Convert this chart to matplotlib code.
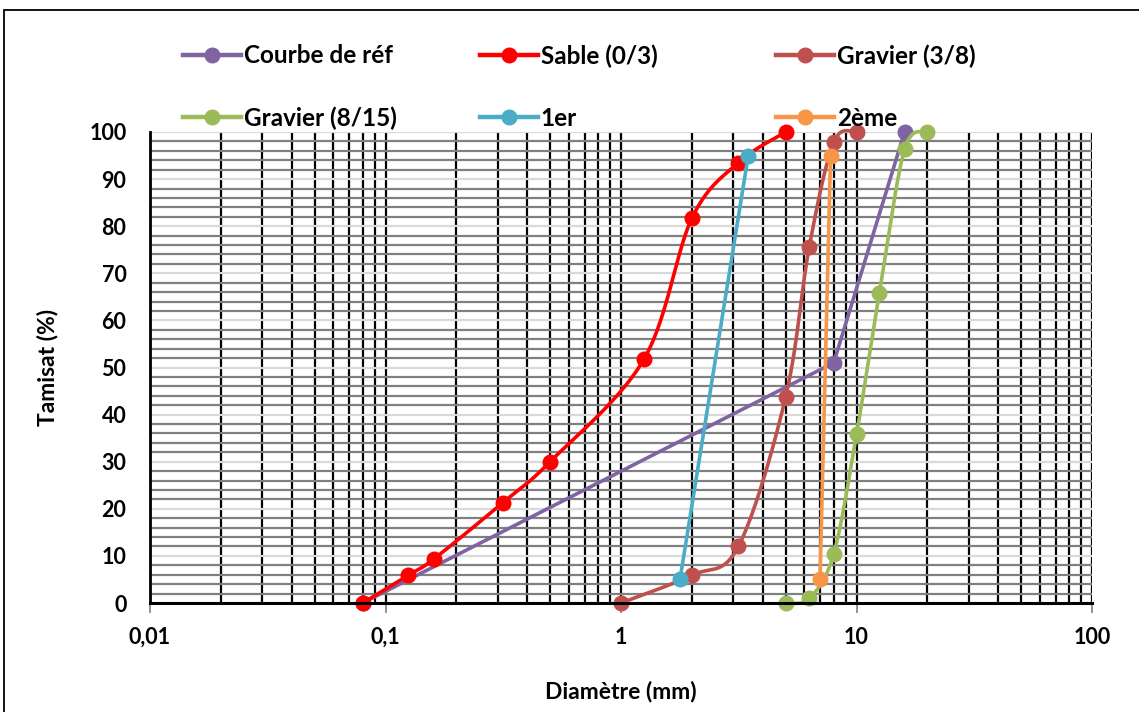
import numpy as np
import matplotlib
matplotlib.use("Agg")
from matplotlib import pyplot as plt
from matplotlib.lines import Line2D
from matplotlib.patches import Rectangle

plt.rcParams['font.family'] = ['Lato', 'DejaVu Sans']
plt.rcParams['font.weight'] = 'bold'
plt.rcParams['axes.labelweight'] = 'bold'

# sieve analysis data: diameter (mm) / passing (%)
ref_d = [0.08, 8, 16]
ref_p = [0, 51, 100]

sable_d = [0.08, 0.125, 0.16, 0.315, 0.5, 1.25, 2, 3.15, 5]
sable_p = [0, 5.9, 9.3, 21.3, 30.0, 51.7, 81.7, 93.5, 100]

g38_d = [1, 2, 3.15, 5, 6.3, 8, 10]
g38_p = [0, 5.9, 12.0, 43.7, 75.6, 97.8, 100]

g815_d = [5, 6.3, 8, 10, 12.5, 16, 20]
g815_p = [0, 1.0, 10.4, 35.8, 65.8, 96.3, 100]

d1_d = [1.78, 3.47]
d1_p = [5, 95]

d2_d = [7.0, 7.76]
d2_p = [5, 95]

names = ['Courbe de réf', 'Sable (0/3)', 'Gravier (3/8)', 'Gravier (8/15)', '1er', '2ème']
colors = ['#8064A2', '#FF0000', '#C0504D', '#9BBB59', '#4BACC6', '#F79646']
series = [(ref_d, ref_p, False), (sable_d, sable_p, True), (g38_d, g38_p, True),
          (g815_d, g815_p, True), (d1_d, d1_p, False), (d2_d, d2_p, False)]

xticks = [0.01, 0.1, 1, 10, 100]
xtick_labels = ['0,01', '0,1', '1', '10', '100']
yticks = list(range(0, 101, 10))


def smooth(ax, xs, ys, n=40):
    # Catmull-Rom style bezier through the points, computed in screen space
    pts = ax.transData.transform(np.column_stack([xs, ys]))
    out = [pts[0]]
    m = len(pts)
    for i in range(m - 1):
        p0 = pts[i]
        p3 = pts[i + 1]
        pm = pts[i - 1] if i > 0 else pts[i]
        pn = pts[i + 2] if i + 2 < m else pts[i + 1]
        p1 = p0 + (p3 - pm) / 6.0
        p2 = p3 - (pn - p0) / 6.0
        t = np.linspace(0, 1, n)[1:, None]
        seg = ((1 - t) ** 3) * p0 + 3 * ((1 - t) ** 2) * t * p1 + 3 * (1 - t) * t ** 2 * p2 + t ** 3 * p3
        out.extend(seg)
    out = np.array(out)
    back = ax.transData.inverted().transform(out)
    return back[:, 0], back[:, 1]


fig = plt.figure(figsize=(11.39, 7.12), dpi=100)
ax = fig.add_axes([150 / 1139, 1 - 603 / 712, (1092 - 150) / 1139, (603 - 132) / 712])

ax.set_xscale('log')
ax.set_xlim(0.01, 100)
ax.set_ylim(0, 100)

ax.set_xticks(xticks)
ax.set_xticklabels(xtick_labels)
ax.set_yticks(yticks)
ax.set_yticks(range(0, 101, 2), minor=True)
ax.xaxis.set_minor_locator(matplotlib.ticker.LogLocator(base=10, subs=np.arange(2, 10)))
ax.xaxis.set_minor_formatter(matplotlib.ticker.NullFormatter())

ax.grid(which='major', axis='y', color='#D9D9D9', lw=1.6)
ax.grid(which='minor', axis='y', color='#808080', lw=1.6)
ax.grid(which='both', axis='x', color='black', lw=1.6)
ax.set_axisbelow(True)

for s in ['top', 'right']:
    ax.spines[s].set_visible(False)
ax.spines['left'].set_linewidth(2)
ax.spines['bottom'].set_linewidth(2.2)
ax.tick_params(axis='x', which='major', length=7, width=1.2, color='#808080', pad=10, labelsize=15.5)
ax.tick_params(axis='x', which='minor', length=0)
ax.tick_params(axis='y', which='both', length=0, pad=17, labelsize=15.5)

handles = []
for (xs, ys, sm), name, c in zip(series, names, colors):
    if sm:
        lx, ly = smooth(ax, xs, ys)
    else:
        lx, ly = xs, ys
    ax.plot(lx, ly, color=c, lw=2.6, solid_capstyle='round', clip_on=False)
    ax.plot(xs, ys, 'o', color=c, ms=10.5, clip_on=False)
    handles.append(Line2D([], [], color=c, lw=3.2, marker='o', ms=10.5))

ax.set_xlabel('Diamètre (mm)', fontsize=16.5, labelpad=24)
ax.set_ylabel('Tamisat (%)', fontsize=16.5, labelpad=22)

# legend laid out as three columns of two rows
col_x = [183 / 1139, 480 / 1139, 776 / 1139]
for k in range(3):
    fig.legend([handles[k], handles[k + 3]], [names[k], names[k + 3]],
               loc='center left', bbox_to_anchor=(col_x[k], 1 - 87 / 712),
               bbox_transform=fig.transFigure, frameon=False, fontsize=17.5,
               handlelength=2.4, handletextpad=0.1, labelspacing=1.6,
               borderpad=0, borderaxespad=0)

fig.add_artist(Rectangle((4 / 1139, -0.05), 1.2, 1.05 - 10 / 712, transform=fig.transFigure,
                         fill=False, edgecolor='black', lw=1.3))

fig.savefig('out.png', dpi=100)
